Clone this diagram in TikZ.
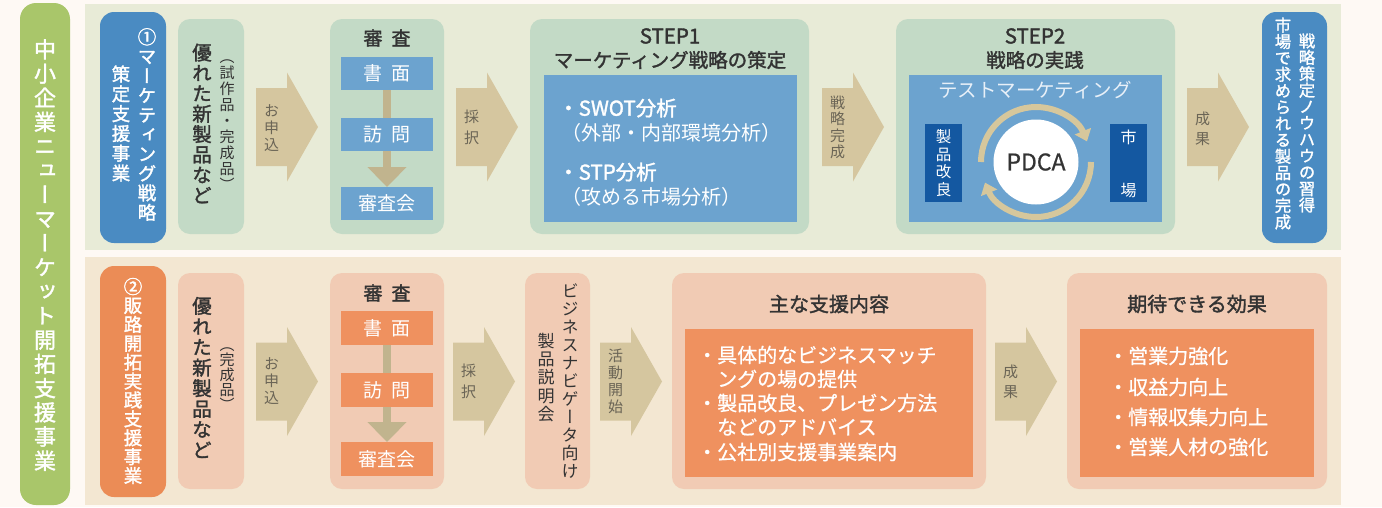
\documentclass[tikz,border=0pt]{standalone}
\usepackage{fontspec}
\setmainfont{Noto Sans CJK JP}
\newfontfamily\jpv{Noto Sans CJK JP}[RawFeature=+vert]
\newfontfamily\jpm{Noto Sans CJK JP}[FakeBold=1.6]
\newfontfamily\jpl{Noto Sans CJK JP}[FakeBold=0.7]
\newfontfamily\jpvm{Noto Sans CJK JP}[RawFeature=+vert,FakeBold=1.6]
\usetikzlibrary{arrows.meta}
\definecolor{pagebg}{HTML}{FEF9F4}
\definecolor{lblgreen}{HTML}{A9C66A}
\definecolor{topbg}{HTML}{E8EBD7}
\definecolor{botbg}{HTML}{F3E7D2}
\definecolor{blueone}{HTML}{4A8BC2}
\definecolor{lgreen}{HTML}{C3DAC6}
\definecolor{subblue}{HTML}{6CA3CF}
\definecolor{darkblue}{HTML}{1458A1}
\definecolor{tanc}{HTML}{D5C69F}
\definecolor{connc}{HTML}{C1B48E}
\definecolor{arcc}{HTML}{D6C79C}
\definecolor{orangetwo}{HTML}{EB8C56}
\definecolor{pinkc}{HTML}{F1CBB4}
\definecolor{orinner}{HTML}{EF915F}
\definecolor{textdark}{HTML}{333333}
\definecolor{arrowtext}{HTML}{6B6556}
\definecolor{lighttext}{HTML}{E8F0F8}
\newcommand{\fsz}[2]{\fontsize{#1}{#2}\selectfont}
\tikzset{
  box/.style={inner sep=0pt, outer sep=0pt, rounded corners=12pt},
  flat/.style={inner sep=0pt, outer sep=0pt},
  vt/.style={align=center, inner sep=0pt},
  lt/.style={anchor=west, inner sep=0pt},
  barrow/.pic={\fill[tanc] (0,-39) -- (31,-39) -- (31,-54.5) -- (62,0) -- (31,54.5) -- (31,39) -- (0,39) -- cycle;},
  conn/.style={draw=connc, line width=8pt},
  pdcaarc/.style={draw=arcc, line width=6pt, -{Triangle[length=11pt,width=17pt]}},
  arrlabel/.style={vt, text=arrowtext, font={\jpv\fsz{15}{17}}},
  subbox/.style={flat, minimum width=92pt, minimum height=33pt, text=white, font={\fsz{19}{21}}},
  ttl/.style={inner sep=0pt, text=textdark, font={\jpm\fsz{19.5}{22}}},
  bul/.style={lt, text=white, font={\jpl\fsz{20}{22}}}
}
\begin{document}
\begin{tikzpicture}[x=1pt,y=-1pt]
\fill[pagebg] (0,0) rectangle (1382,507);
\useasboundingbox (0,0) rectangle (1382,507);

% panels
\node[flat, fill=topbg, minimum width=1256pt, minimum height=246pt] (toppanel) at (713,127) {};
\node[flat, fill=botbg, minimum width=1256pt, minimum height=248pt] (botpanel) at (713,381) {};

% left label
\node[box, fill=lblgreen, rounded corners=16pt, minimum width=50pt, minimum height=502pt] (label) at (45,254) {};
\node[vt, text=white, font={\jpvm\fsz{22}{24.2}}] (labeltxt) at (45,255) {中\\小\\企\\業\\ニ\\ュ\\ー\\マ\\ー\\ケ\\ッ\\ト\\開\\拓\\支\\援\\事\\業};

% ===== top row =====
\node[box, fill=blueone, rounded corners=14pt, minimum width=66pt, minimum height=231pt] (prog1) at (133,127.5) {};
\node[vt, text=white, font={\jpvm\fsz{18.5}{19.5}}] (prog1a) at (147,124.5) {①\\マ\\ー\\ケ\\テ\\ィ\\ン\\グ\\戦\\略};
\node[vt, text=white, font={\jpvm\fsz{18.5}{19.8}}] (prog1b) at (121,123.5) {策\\定\\支\\援\\事\\業};

\node[box, fill=lgreen, minimum width=66pt, minimum height=215pt] (prod1) at (211,126.5) {};
\node[vt, text=textdark, font={\jpvm\fsz{19.5}{20.4}}] (prod1a) at (202,123.5) {優\\れ\\た\\新\\製\\品\\な\\ど};
\node[vt, text=textdark, font={\jpv\fsz{15}{16}}] (prod1b) at (227,125) {（\\試\\作\\品\\・\\完\\成\\品\\）};

\pic at (256,127) {barrow};
\node[arrlabel] (apply1) at (271.5,128) {お\\申\\込};

\node[box, fill=lgreen, minimum width=114pt, minimum height=215pt] (rev1) at (387,126.5) {};
\node[ttl, font={\jpm\fsz{19}{21}}] (rev1t) at (387,38) {審\hspace{9pt}査};
\node[subbox, fill=subblue] (doc1) at (387,73.5) {書\hspace{9pt}面};
\node[subbox, fill=subblue] (vis1) at (387,134.5) {訪\hspace{9pt}問};
\node[subbox, fill=subblue] (com1) at (387,203.5) {審査会};
\draw[conn] (doc1.south) -- (vis1.north);
\draw[conn, -{Triangle[length=20pt,width=38pt]}] (vis1.south) -- (com1.north);

\pic at (456,127) {barrow};
\node[arrlabel, font={\jpv\fsz{15}{21}}] (adopt1) at (471.5,127) {採\\択};

\node[box, fill=lgreen, minimum width=279pt, minimum height=215pt] (step1) at (669.5,126.5) {};
\node[ttl, font={\jpm\fsz{20.5}{22}}] (step1t) at (670,36) {STEP1};
\node[ttl] (step1s) at (670,60) {マーケティング戦略の策定};
\node[flat, fill=subblue, minimum width=253pt, minimum height=147pt] (step1in) at (670.5,148.5) {};
\node[lt, text=white, font={\jpm\fsz{20.5}{22}}] (swot) at (558,108) {・SWOT分析};
\node[lt, text=white, font={\fsz{20}{22}}] (swotsub) at (561,133) {（外部・内部環境分析）};
\node[lt, text=white, font={\jpm\fsz{20.5}{22}}] (stp) at (558,172) {・STP分析};
\node[lt, text=white, font={\fsz{20}{22}}] (stpsub) at (561,197) {（攻める市場分析）};

\pic at (822,127) {barrow};
\node[arrlabel, font={\jpv\fsz{15}{16.5}}] (done1) at (837.5,127.5) {戦\\略\\完\\成};

\node[box, fill=lgreen, minimum width=279pt, minimum height=215pt] (step2) at (1035.5,126.5) {};
\node[ttl, font={\jpm\fsz{20.5}{22}}] (step2t) at (1035,36) {STEP2};
\node[ttl] (step2s) at (1035,60) {戦略の実践};
\node[flat, fill=subblue, minimum width=253pt, minimum height=147pt] (step2in) at (1035.5,148.5) {};
\node[inner sep=0pt, text=lighttext, font={\fsz{19.5}{22}}] (testmk) at (1035,90) {テストマーケティング};
\node[flat, fill=darkblue, minimum width=37pt, minimum height=78pt] (kairyo) at (943.5,163) {};
\node[vt, text=white, font={\jpv\fsz{15.5}{17.5}}] (kairyot) at (943.5,163) {製\\品\\改\\良};
\node[flat, fill=darkblue, minimum width=37pt, minimum height=78pt] (market) at (1128.5,163) {};
\node[vt, text=white, font={\jpv\fsz{16}{53}}] (markett) at (1128.5,163.5) {市\\場};
\node[circle, fill=white, minimum size=85pt, inner sep=0pt, text=textdark, font={\jpl\fsz{23}{24}}] (pdca) at (1036,162) {PDCA};
\draw[pdcaarc] ([shift={(180:55pt)}]pdca.center) arc[start angle=180, end angle=22, radius=55pt];
\draw[pdcaarc] ([shift={(0:55pt)}]pdca.center) arc[start angle=0, end angle=-158, radius=55pt];

\pic at (1187,127) {barrow};
\node[arrlabel, font={\jpv\fsz{15}{20}}] (res1) at (1202.5,128.5) {成\\果};

\node[box, fill=blueone, rounded corners=14pt, minimum width=65pt, minimum height=231pt] (goal1) at (1294.5,127.5) {};
\node[vt, text=white, font={\jpvm\fsz{16.3}{16.4}}] (goal1a) at (1307,123) {戦\\略\\策\\定\\ノ\\ウ\\ハ\\ウ\\の\\習\\得};
\node[vt, text=white, font={\jpvm\fsz{16.3}{16.4}}] (goal1b) at (1283,123.5) {市\\場\\で\\求\\め\\ら\\れ\\る\\製\\品\\の\\完\\成};

% ===== bottom row =====
\node[box, fill=orangetwo, rounded corners=14pt, minimum width=66pt, minimum height=231pt] (prog2) at (133,381.5) {};
\node[vt, text=white, font={\jpvm\fsz{18.5}{18.9}}] (prog2a) at (133,381) {②\\販\\路\\開\\拓\\実\\践\\支\\援\\事\\業};

\node[box, fill=pinkc, minimum width=66pt, minimum height=216pt] (prod2) at (211,381) {};
\node[vt, text=textdark, font={\jpvm\fsz{19.5}{20.6}}] (prod2a) at (202,377.5) {優\\れ\\た\\新\\製\\品\\な\\ど};
\node[vt, text=textdark, font={\jpv\fsz{15}{15}}] (prod2b) at (227,379) {（\\完\\成\\品\\）};

\pic at (256,381.5) {barrow};
\node[arrlabel] (apply2) at (271.5,381.5) {お\\申\\込};

\node[box, fill=pinkc, minimum width=114pt, minimum height=216pt] (rev2) at (387,381) {};
\node[ttl, font={\jpm\fsz{19}{21}}] (rev2t) at (387,293) {審\hspace{9pt}査};
\node[subbox, fill=orinner, minimum height=34pt] (doc2) at (387,328) {書\hspace{9pt}面};
\node[subbox, fill=orinner, minimum height=34pt] (vis2) at (387,390) {訪\hspace{9pt}問};
\node[subbox, fill=orinner, minimum height=34pt] (com2) at (387,459) {審査会};
\draw[conn] (doc2.south) -- (vis2.north);
\draw[conn, -{Triangle[length=20pt,width=38pt]}] (vis2.south) -- (com2.north);

\pic at (453,381.5) {barrow};
\node[arrlabel, font={\jpv\fsz{15}{21}}] (adopt2) at (468.5,381.5) {採\\択};

\node[box, fill=pinkc, minimum width=65pt, minimum height=216pt] (navi) at (557.5,381) {};
\node[vt, text=textdark, font={\jpv\fsz{17}{18}}] (navia) at (570,381) {ビ\\ジ\\ネ\\ス\\ナ\\ビ\\ゲ\\ー\\タ\\向\\け};
\node[vt, text=textdark, font={\jpv\fsz{17}{18.3}}] (navib) at (546,377.5) {製\\品\\説\\明\\会};

\pic at (600,381.5) {barrow};
\node[arrlabel] (start2) at (615.5,381) {活\\動\\開\\始};

\node[box, fill=pinkc, minimum width=314pt, minimum height=216pt] (support) at (829,381) {};
\node[ttl, font={\jpm\fsz{20}{22}}] (supportt) at (829,304) {主な支援内容};
\node[flat, fill=orinner, minimum width=288pt, minimum height=148pt] (supportin) at (829,403) {};
\node[bul] (sup1) at (697,355) {・具体的なビジネスマッチ};
\node[bul] (sup1b) at (717,379) {ングの場の提供};
\node[bul] (sup2) at (697,403) {・製品改良、プレゼン方法};
\node[bul] (sup2b) at (717,427) {などのアドバイス};
\node[bul] (sup3) at (697,452) {・公社別支援事業案内};

\pic at (995,381.5) {barrow};
\node[arrlabel, font={\jpv\fsz{15}{20}}] (res2) at (1010.5,381.5) {成\\果};

\node[box, fill=pinkc, minimum width=260pt, minimum height=216pt] (effect) at (1197,381) {};
\node[ttl, font={\jpm\fsz{20}{22}}] (effectt) at (1197,304) {期待できる効果};
\node[flat, fill=orinner, minimum width=234pt, minimum height=148pt] (effectin) at (1197,403) {};
\node[bul] (eff1) at (1108,356) {・営業力強化};
\node[bul] (eff2) at (1108,387) {・収益力向上};
\node[bul] (eff3) at (1108,417) {・情報収集力向上};
\node[bul] (eff4) at (1108,447) {・営業人材の強化};
\end{tikzpicture}
\end{document}
